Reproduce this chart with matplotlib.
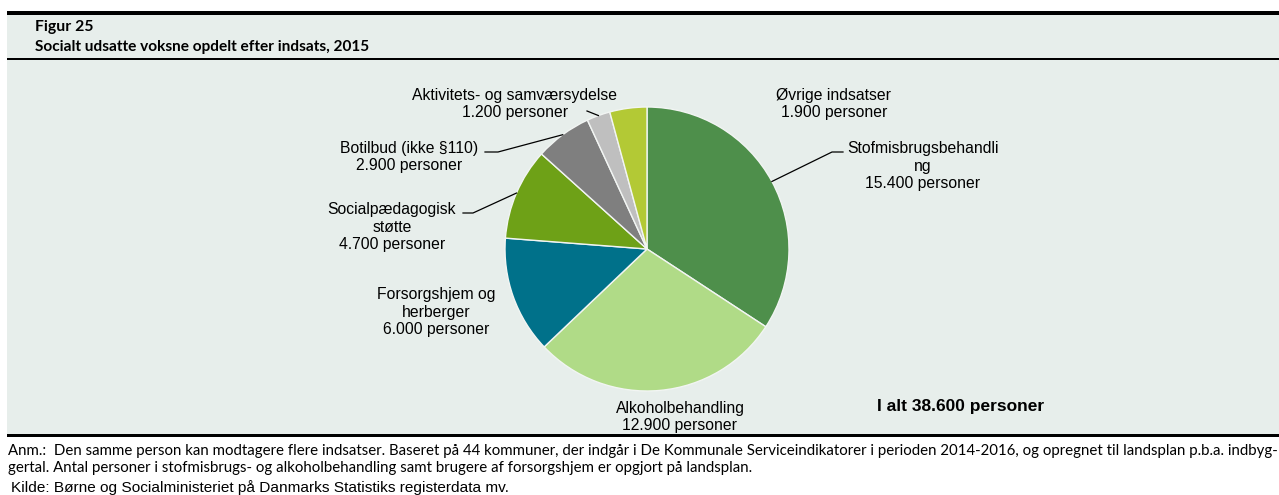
import numpy as np
import matplotlib
matplotlib.use("Agg")
import matplotlib.pyplot as plt
from matplotlib.patches import Rectangle

W, H = 1279, 495

# data
categories = [
    "Stofmisbrugsbehandli\nng",
    "Alkoholbehandling",
    "Forsorgshjem og\nherberger",
    "Socialpædagogisk\nstøtte",
    "Botilbud (ikke §110)",
    "Aktivitets- og samværsydelse",
    "Øvrige indsatser",
]
values = [15400, 12900, 6000, 4700, 2900, 1200, 1900]
colors = ["#4E8F4B", "#B0DB87", "#00718A", "#6EA117", "#7F7F7F", "#BFBFBF", "#B3C935"]
TOTAL = 38600

# label block centres (pixels) and leader elbows
label_pos = [(923, 166), (680, 417), (436, 312), (392, 227), (409, 157), (515, 104), (834, 104)]
leaders = {
    0: [(832, 152), (843, 152)],
    3: [(473, 213), (463, 213)],
    4: [(498, 152), (485, 152)],
    5: [(587, 111)],
}

BG = "#E7EEEB"
CX, CY, R = 647, 249, 142


def fx(px):
    return px / W


def fy(py):
    return 1 - py / H


def fmt(v):
    return f"{v:,}".replace(",", ".")


def to_data(p):
    return ((p[0] - CX) / R, (CY - p[1]) / R)


fig = plt.figure(figsize=(W / 100, H / 100), dpi=100, facecolor="white")

# panel background and rules
fig.patches.append(Rectangle((fx(7), fy(435)), 1 - fx(7), fy(15) - fy(435),
                             transform=fig.transFigure, facecolor=BG, edgecolor="none", zorder=-10))
for top, bot in [(11, 15), (58, 60), (434, 437)]:
    fig.patches.append(Rectangle((fx(7), fy(bot)), 1 - fx(7), fy(top) - fy(bot),
                                 transform=fig.transFigure, facecolor="black",
                                 edgecolor="none", zorder=-5))

fig.text(fx(35), fy(27), "Figur 25", fontsize=11.3, fontweight="bold", family="Lato",
         va="center", ha="left")
fig.text(fx(35), fy(47), "Socialt udsatte voksne opdelt efter indsats, 2015", fontsize=11.1,
         fontweight="bold", family="Lato", va="center", ha="left")

# pie
ax = fig.add_axes([fx(CX - R), fy(CY + R), 2 * R / W, 2 * R / H], zorder=5)
ax.set_facecolor("none")
wedges, _ = ax.pie(values, colors=colors, startangle=90, counterclock=False, radius=1,
                   wedgeprops=dict(edgecolor="#F2F5F3", linewidth=1.0))
ax.set_xlim(-1, 1)
ax.set_ylim(-1, 1)
ax.set_axis_off()

for i, (cat, val) in enumerate(zip(categories, values)):
    tx, ty = to_data(label_pos[i])
    ax.text(tx, ty, f"{cat}\n{fmt(val)} personer", ha="center", va="center",
            fontsize=11.3, family="Liberation Sans", linespacing=1.17, clip_on=False)
    if i in leaders:
        w = wedges[i]
        mid = np.deg2rad((w.theta1 + w.theta2) / 2)
        pts = [(np.cos(mid), np.sin(mid))] + [to_data(p) for p in leaders[i]]
        xs, ys = zip(*pts)
        ax.plot(xs, ys, color="black", lw=0.9, clip_on=False)

fig.text(fx(961), fy(406), f"I alt {fmt(TOTAL)} personer", fontsize=12.5, fontweight="bold",
         family="Liberation Sans", ha="center", va="center")

# notes
fig.text(fx(8), fy(451), "Anm.:  Den samme person kan modtagere flere indsatser. Baseret på 44 kommuner, "
         "der indgår i De Kommunale Serviceindikatorer i perioden 2014-2016, og opregnet til landsplan "
         "p.b.a. indbyg-", fontsize=10.8, family="Lato", va="center", ha="left")
fig.text(fx(8), fy(468), "gertal. Antal personer i stofmisbrugs- og alkoholbehandling samt brugere af "
         "forsorgshjem er opgjort på landsplan.", fontsize=10.8, family="Lato", va="center", ha="left")
fig.text(fx(11), fy(488), "Kilde: Børne og Socialministeriet på Danmarks Statistiks registerdata mv.",
         fontsize=11.1, family="Liberation Sans", va="center", ha="left")

fig.savefig("out.png", dpi=100, facecolor="white")
